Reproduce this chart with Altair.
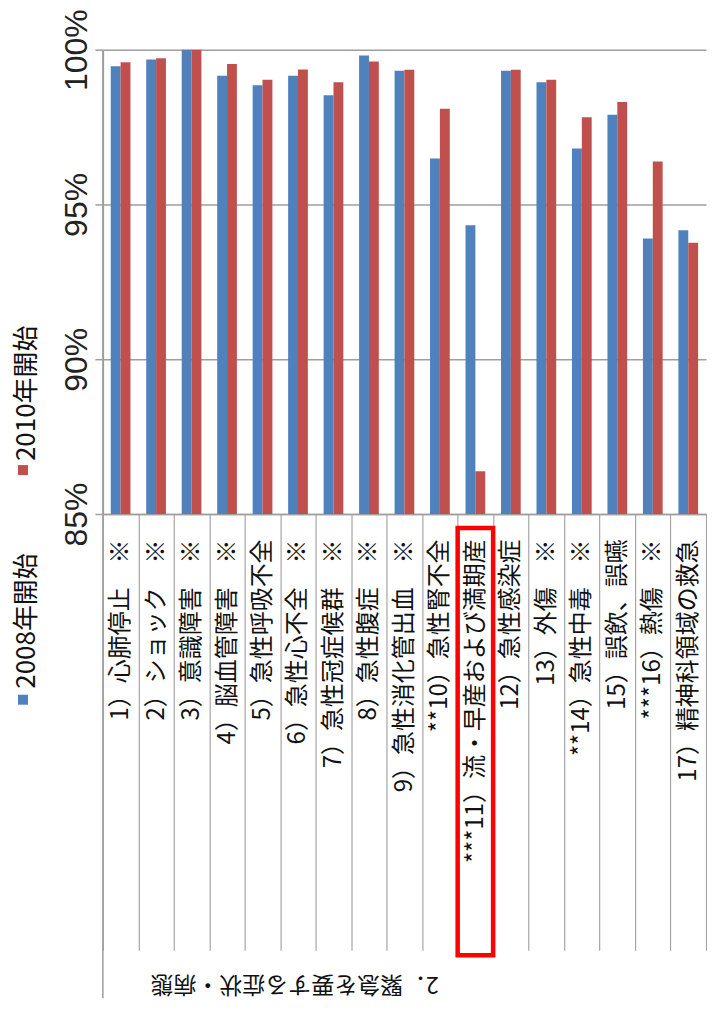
import altair as alt
import pandas as pd

categories = [
    "1）心肺停止　※",
    "2）ショック　※",
    "3）意識障害　※",
    "4）脳血管障害　※",
    "5）急性呼吸不全",
    "6）急性心不全　※",
    "7）急性冠症候群　※",
    "8）急性腹症　※",
    "9）急性消化管出血　※",
    "**10）急性腎不全",
    "***11）流・早産および満期産",
    "12）急性感染症",
    "13）外傷　※",
    "**14）急性中毒　※",
    "15）誤飲、誤嚥",
    "***16）熱傷　※",
    "17）精神科領域の救急",
]
series = ["2008年開始", "2010年開始"]
v2008 = [99.46, 99.68, 100.0, 99.16, 98.85, 99.16, 98.53, 99.81, 99.32,
         96.48, 94.33, 99.32, 98.95, 96.81, 97.90, 93.90, 94.17]
v2010 = [99.59, 99.72, 100.0, 99.54, 99.03, 99.36, 98.95, 99.62, 99.35,
         98.09, 86.38, 99.35, 99.03, 97.82, 98.31, 96.39, 93.76]
y_ticks = [85, 90, 95, 100]
group_label = "2．緊急を要する症状・病態"
highlight = categories[10]

rows = []
for c, a, b in zip(categories, v2008, v2010):
    rows.append({"cat": c, "series": series[0], "value": a})
    rows.append({"cat": c, "series": series[1], "value": b})
df = pd.DataFrame(rows)

W, H = 604, 465
colors = ["#4F81BD", "#C0504D"]
FONT = "Noto Sans CJK JP"
GRID = "#9e9e9e"

x_enc = alt.X(
    "cat:N", sort=categories,
    scale=alt.Scale(paddingInner=0, paddingOuter=0),
    axis=alt.Axis(
        title=None, labelAngle=270, labelAlign="right", labelBaseline="middle",
        labelFont=FONT, labelFontSize=24, labelColor="#111111",
        tickBand="extent", tickSize=437, tickColor="#a6a6a6", tickWidth=1.2,
        labelPadding=-412, domainColor=GRID, domainWidth=1.5,
        labelLimit=600, labelOverlap=False,
    ),
)

y_enc = alt.Y(
    "value:Q",
    scale=alt.Scale(domain=[85, 100], zero=False, nice=False),
    axis=alt.Axis(
        title=None, values=y_ticks, labelExpr="datum.value + '%'",
        labelAngle=270, labelAlign="center", labelBaseline="alphabetic",
        labelFont="Liberation Sans", labelFontSize=32, labelColor="#222222",
        labelPadding=8, tickSize=8, tickColor=GRID, tickWidth=1.5,
        grid=True, gridColor=GRID, gridWidth=1.5,
        domainColor=GRID, domainWidth=1.5,
    ),
)

bars = alt.Chart(df).mark_bar().encode(
    x=x_enc,
    xOffset=alt.XOffset("series:N", sort=series,
                        scale=alt.Scale(paddingInner=0, paddingOuter=0.8)),
    y=y_enc,
    y2=alt.datum(85),
    color=alt.Color("series:N", scale=alt.Scale(domain=series, range=colors), legend=None),
)

box = alt.Chart(pd.DataFrame({"cat": [highlight]})).mark_rect(
    filled=False, stroke="#ff0000", strokeWidth=4.5
).encode(
    x=alt.X("cat:N", sort=categories),
    y=alt.value(479), y2=alt.value(907),
)

one = pd.DataFrame({"k": [0]})
left_line = alt.Chart(one).mark_rule(color=GRID, strokeWidth=1.5).encode(
    x=alt.value(0), y=alt.value(0), y2=alt.value(950)
)

group = alt.Chart(one).mark_text(
    angle=180, font=FONT, fontSize=23, color="#111111", align="center", baseline="middle"
).encode(x=alt.value(192), y=alt.value(936), text=alt.value(group_label))

legend_layers = []
for name, col, sy, ty in [(series[0], colors[0], 651, 640), (series[1], colors[1], 421, 412)]:
    legend_layers.append(
        alt.Chart(one).mark_square(size=100, color=col, opacity=1).encode(
            x=alt.value(-80), y=alt.value(sy)
        )
    )
    legend_layers.append(
        alt.Chart(one).mark_text(
            angle=270, font=FONT, fontSize=26, color="#111111", align="left", baseline="middle"
        ).encode(x=alt.value(-76), y=alt.value(ty), text=alt.value(name))
    )

chart = alt.layer(bars, box, left_line, group, *legend_layers).properties(
    width=W, height=H,
    padding={"left": 6, "top": 0, "right": 0, "bottom": 6},
).configure_view(stroke=None)

chart.save("out.html", embed_options={"renderer": "svg", "actions": False})
